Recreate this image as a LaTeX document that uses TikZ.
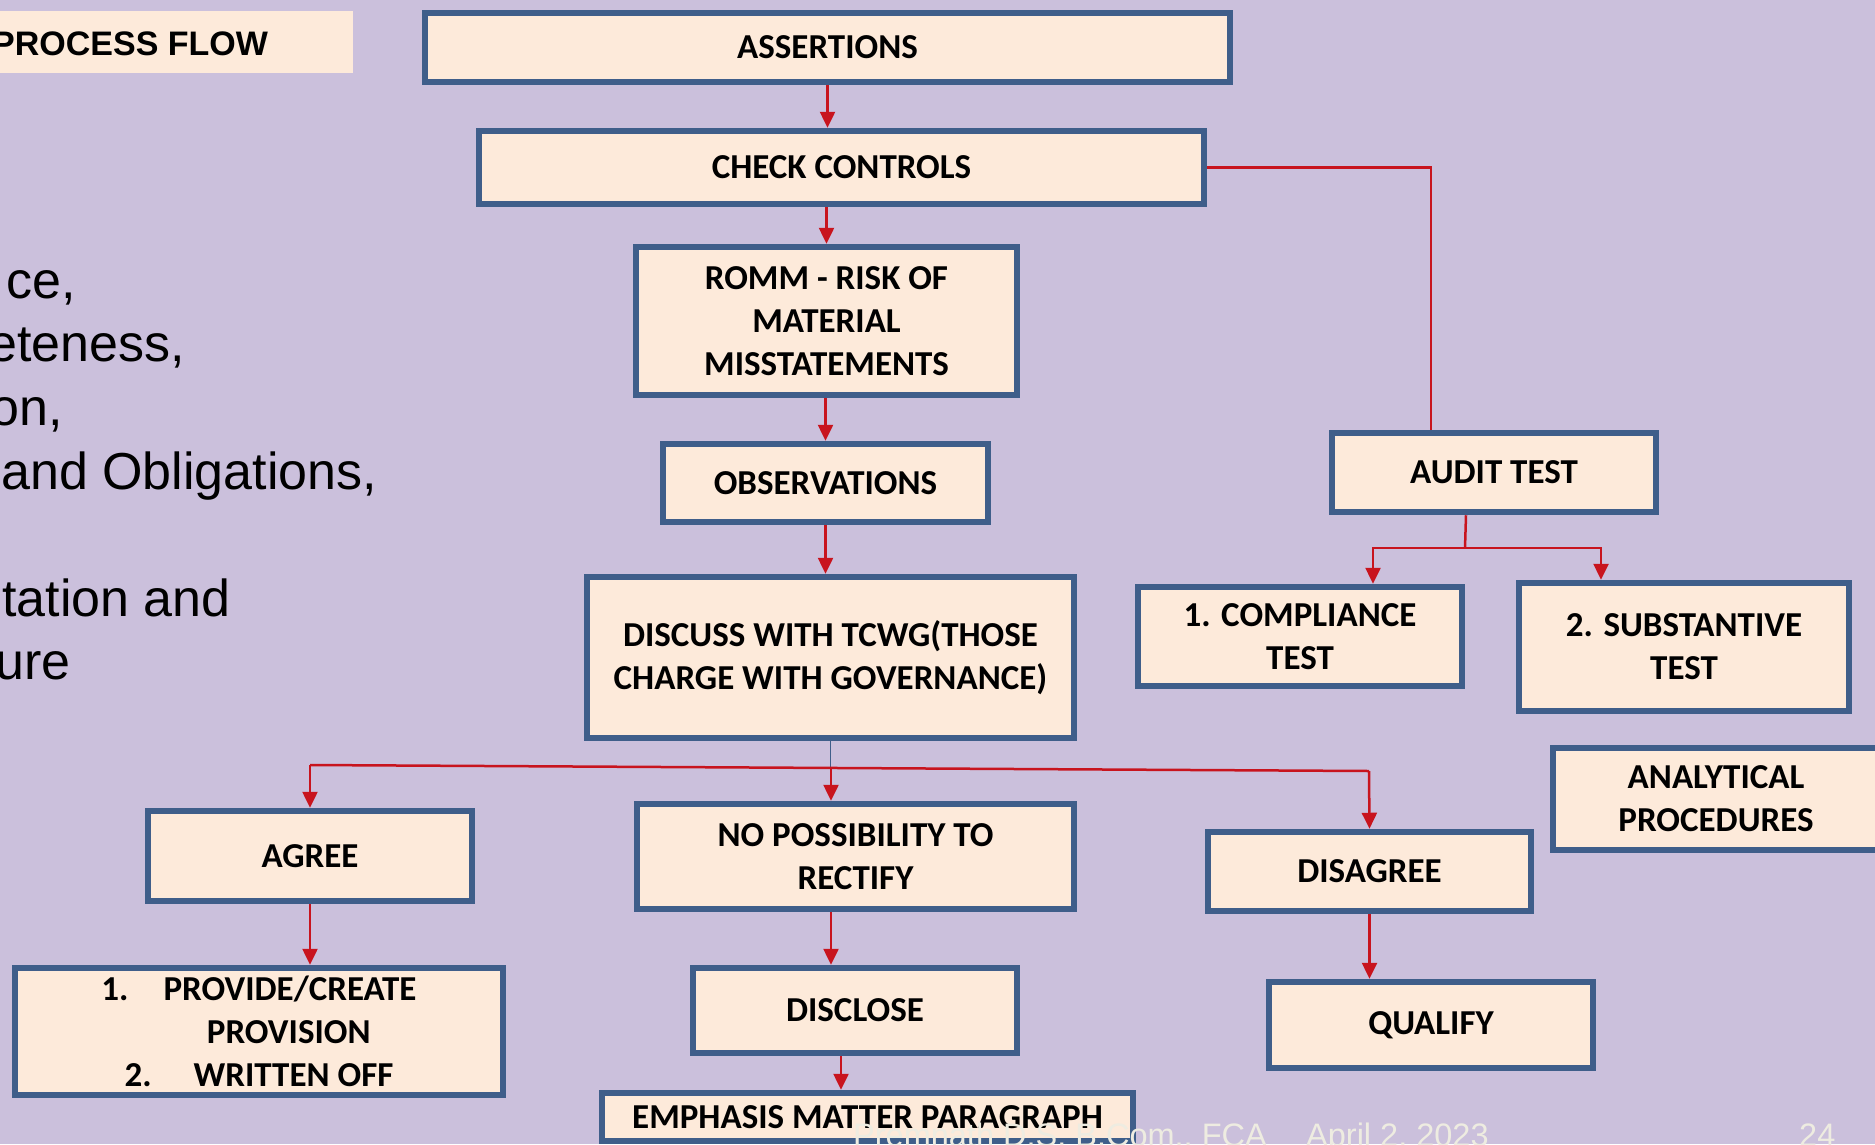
\documentclass[tikz,border=0pt]{standalone}
\usepackage{fontspec}
\setmainfont{Carlito}
\newfontfamily\slidefont{Liberation Sans}
\usetikzlibrary{arrows.meta}

\definecolor{slidebg}{RGB}{203,192,220}
\definecolor{boxfill}{RGB}{253,234,218}
\definecolor{boxline}{RGB}{63,94,138}
\definecolor{flowred}{RGB}{200,20,30}
\definecolor{footgrey}{RGB}{238,236,225}

\begin{document}
\begin{tikzpicture}[x=1pt,y=-1pt,
  flow box/.style={draw=boxline,fill=boxfill,line width=6.5pt,inner sep=0pt,align=center,font=\bfseries\fontsize{35}{43}\selectfont},
  flow line/.style={draw=flowred,line width=2.5pt},
  flow arrow/.style={flow line,-{Triangle[width=15pt,length=16pt]}},
  body text/.style={inner sep=0pt,font=\slidefont\fontsize{52}{64}\selectfont},
  footer/.style={inner sep=0pt,text=footgrey,font=\slidefont\fontsize{32.5}{38}\selectfont}]

  \fill[slidebg] (0,0) rectangle (1875,1144);
  \useasboundingbox (0,0) rectangle (1875,1144);

  % left side of the slide
  \node[fill=boxfill,inner sep=0pt,minimum width=353pt,minimum height=62pt,anchor=north west] (titlebox) at (0,11) {};
  \node[inner sep=0pt,anchor=base west,font=\slidefont\bfseries\fontsize{34}{40}\selectfont] (title) at (-8,55) {PROCESS FLOW};

  \node[body text,anchor=base west] (body1) at (6,298) {ce,};
  \node[body text,anchor=base west] (body2) at (-12,361) {eteness,};
  \node[body text,anchor=base west] (body3) at (-10,425) {on,};
  \node[body text,anchor=base west] (body4) at (1,489) {and Obligations,};
  \node[body text,anchor=base west] (body5) at (2,616) {tation and};
  \node[body text,anchor=base west] (body6) at (-5,679) {ure};

  % main column
  \node[flow box,minimum width=805pt,minimum height=69pt] (assert) at (827.5,47.5) {ASSERTIONS};
  \node[flow box,minimum width=725pt,minimum height=73pt] (check) at (841.5,167.5) {CHECK CONTROLS};
  \node[flow box,minimum width=381pt,minimum height=148pt] (romm) at (826.5,321) {ROMM - RISK OF\\MATERIAL\\MISSTATEMENTS};
  \node[flow box,minimum width=325pt,minimum height=78pt] (obs) at (825.5,483) {OBSERVATIONS};
  \node[flow box,minimum width=487pt,minimum height=161pt] (discuss) at (830.5,657.5) {DISCUSS WITH TCWG(THOSE\\CHARGE WITH GOVERNANCE)};

  % audit tests
  \node[flow box,minimum width=324pt,minimum height=79pt] (audit) at (1494,472.5) {AUDIT TEST};
  \node[flow box,minimum width=324pt,minimum height=99pt] (comp) at (1300,636.5) {1. COMPLIANCE\\TEST};
  \node[flow box,minimum width=330pt,minimum height=128pt] (subst) at (1684,647) {2. SUBSTANTIVE\\TEST};
  \node[flow box,minimum width=326pt,minimum height=102pt] (analyt) at (1716,799) {ANALYTICAL\\PROCEDURES};

  % outcomes
  \node[flow box,minimum width=324pt,minimum height=90pt] (agree) at (310,856) {AGREE};
  \node[flow box,minimum width=437pt,minimum height=105pt] (nopos) at (855.5,856.5) {NO POSSIBILITY TO\\RECTIFY};
  \node[flow box,minimum width=323pt,minimum height=79pt] (disagree) at (1369.5,871.5) {DISAGREE};
  \node[flow box,minimum width=488pt,minimum height=127pt] (provide) at (259,1031.5) {1.\quad PROVIDE/CREATE\\\hspace*{1.7em}PROVISION\\2.\hspace{1.2em}WRITTEN OFF};
  \node[flow box,minimum width=324pt,minimum height=85pt] (disclose) at (855,1010.5) {DISCLOSE};
  \node[flow box,minimum width=324pt,minimum height=86pt] (qualify) at (1431,1025) {QUALIFY};
  \node[flow box,minimum width=531pt,minimum height=48pt] (emph) at (867.5,1117) {EMPHASIS MATTER PARAGRAPH};

  \coordinate (split) at (1465,548);
  \coordinate (jl) at (310,765);
  \coordinate (jm) at (831,768);
  \coordinate (jr) at (1369,771);

  \draw[flow arrow] (assert.south) to (assert.south |- check.north);
  \draw[flow arrow] (romm.north |- check.south) to (romm.north);
  \draw[flow arrow] (obs.north |- romm.south) to (obs.north);
  \draw[flow arrow] (obs.south) to (obs.south |- discuss.north);

  \draw[flow line] (check.east) -| ([xshift=-63pt]audit.north);
  \draw[flow line] ([xshift=-28pt]audit.south) to (split);
  \draw[flow arrow] (split) -| ([xshift=73pt]comp.north);
  \draw[flow arrow] (split) -| ([xshift=-83pt]subst.north);

  \draw[boxline,line width=1.2pt] (discuss.south) to (discuss.south |- jm);
  \draw[flow line] (jl) to (jr);
  \draw[flow arrow] (jl) to (agree.north);
  \draw[flow arrow] (jm) to (jm |- nopos.north);
  \draw[flow arrow] (jr) to (disagree.north);

  \draw[flow arrow] (agree.south) to (agree.south |- provide.north);
  \draw[flow arrow] (jm |- nopos.south) to (jm |- disclose.north);
  \draw[flow arrow] (disagree.south) to (disagree.south |- qualify.north);
  \draw[flow arrow] ([xshift=-14pt]disclose.south) to ([xshift=-14pt]disclose.south |- emph.north);

  % footer
  \node[footer,anchor=base west] (author) at (853,1146) {Premnath D.S. B.Com., FCA};
  \node[footer,anchor=base west] (date) at (1306,1146) {April 2, 2023};
  \node[footer,anchor=base west] (page) at (1799,1146) {24};
\end{tikzpicture}
\end{document}
